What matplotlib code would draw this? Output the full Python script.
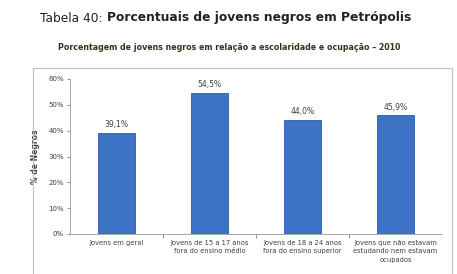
import matplotlib
matplotlib.use("Agg")
from matplotlib import pyplot as plt
from matplotlib.patches import Rectangle

categories = [
    "Jovens em geral",
    "Jovens de 15 a 17 anos\nfora do ensino médio",
    "Jovens de 18 a 24 anos\nfora do ensino superior",
    "Jovens que não estavam\nestudando nem estavam\nocupados",
]
values = [39.1, 54.5, 44.0, 45.9]
value_labels = ["39,1%", "54,5%", "44,0%", "45,9%"]
y_ticks = [0, 10, 20, 30, 40, 50, 60]

fig = plt.figure(figsize=(4.57, 2.74), dpi=100)
fig.patch.set_facecolor("white")

# chart area frame
fig.patches.append(Rectangle((33 / 457, -0.05), 419 / 457, 1 - 68 / 274 + 0.05,
                             transform=fig.transFigure, fill=False,
                             edgecolor="#bfbfbf", linewidth=0.8))

ax = fig.add_axes([70 / 457, 40 / 274, 372 / 457, 155 / 274])
x = range(len(categories))
ax.bar(x, values, width=0.4, color="#3d73c5", edgecolor="#2c5ba6", linewidth=0.6)
for xi, v, lab in zip(x, values, value_labels):
    ax.text(xi, v + 1.5, lab, ha="center", va="bottom", fontsize=5.5, color="#404040")

ax.set_xlim(-0.5, len(categories) - 0.5)
ax.set_ylim(0, 60)
ax.set_yticks(y_ticks)
ax.set_yticklabels([f"{t}%" for t in y_ticks], fontsize=5, color="#404040")
ax.set_xticks([i + 0.5 for i in range(len(categories) - 1)])
ax.set_xticklabels([])
ax.set_xticks(list(x), minor=True)
ax.set_xticklabels(categories, minor=True, fontsize=4.9, color="#404040",
                   va="top", linespacing=1.5)
ax.tick_params(axis="x", which="minor", length=0, pad=4)
ax.tick_params(axis="x", which="major", length=3, color="#999999")
ax.tick_params(axis="y", length=2.5, color="#999999", pad=2)
for side in ["top", "right"]:
    ax.spines[side].set_visible(False)
for side in ["left", "bottom"]:
    ax.spines[side].set_color("#999999")
    ax.spines[side].set_linewidth(0.6)
ax.set_ylabel("% de Negros", fontsize=5.5, fontweight="bold", color="#404040", labelpad=6)

# title with regular prefix and bold remainder
fig.text(106 / 457, 1 - 18 / 274, "Tabela 40: ", ha="right", va="center",
         fontsize=8.8, color="#222222")
fig.text(107 / 457, 1 - 18 / 274, "Porcentuais de jovens negros em Petrópolis",
         ha="left", va="center", fontsize=8.8, fontweight="bold", color="#222222")
fig.text(229 / 457, 1 - 47 / 274,
         "Porcentagem de jovens negros em relação a escolaridade e ocupação – 2010",
         ha="center", va="center", fontsize=5.7, fontweight="bold", color="#33331c")

fig.savefig("out.png", dpi=100)
